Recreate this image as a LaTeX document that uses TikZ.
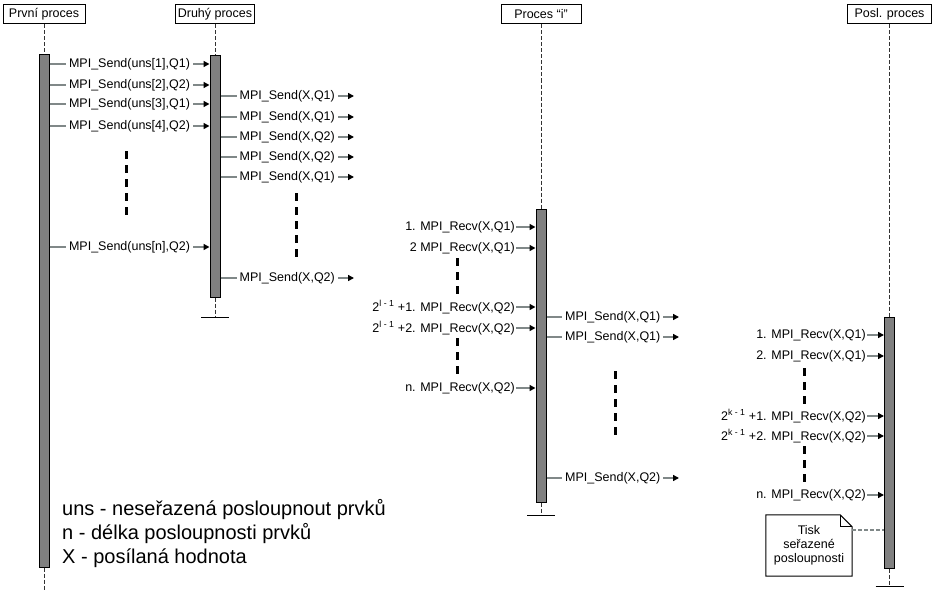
\documentclass[tikz,border=0pt]{standalone}
\usepackage{fontspec}
\setmainfont{Liberation Sans}
\usetikzlibrary{arrows.meta}
\definecolor{bargray}{RGB}{128,128,128}
\definecolor{msggray}{RGB}{128,136,136}
\definecolor{lifegray}{RGB}{50,50,50}
\begin{document}
\begin{tikzpicture}[x=1pt,y=-1pt,
  head/.style={draw, line width=1pt, minimum height=19pt, inner sep=0pt, font=\fontsize{12.5}{14}\selectfont},
  bar/.style={draw, fill=bargray, line width=1pt, minimum width=10pt, inner sep=0pt},
  life/.style={draw=lifegray, line width=1pt, dash pattern=on 4pt off 2pt},
  term/.style={line width=1pt},
  msg/.style={draw=msggray, line width=1.5pt, -{Triangle[length=6pt,width=6pt,color=black]}},
  lbl/.style={fill=white, inner xsep=3pt, inner ysep=1pt, font=\fontsize{12.5}{14}\selectfont},
  rlbl/.style={inner xsep=1pt, inner ysep=1pt, anchor=east, font=\fontsize{12.5}{14}\selectfont},
  ell/.style={line width=3pt, dash pattern=on 8pt off 6pt},
  notebox/.style={minimum width=86pt, minimum height=61pt, inner sep=0pt, align=center, font=\fontsize{12.5}{14}\selectfont},
  notelink/.style={draw=msggray, line width=1.5pt, dash pattern=on 4pt off 2pt},
]
\useasboundingbox (0,0) rectangle (934,602);

% headers
\node[head, minimum width=82pt] (h1) at (44,14.5) {První proces};
\node[head, minimum width=79pt] (h2) at (215,14.5) {Druhý proces};
\node[head, minimum width=80pt] (h3) at (541,14.5) {Proces “i”};
\node[head, minimum width=84pt] (h4) at (889.5,14.5) {Posl. proces};

% activation bars
\node[bar, minimum height=512pt] (b1) at (44,311) {};
\node[bar, minimum height=241pt] (b2) at (215,176.5) {};
\node[bar, minimum height=293pt] (b3) at (541,355.5) {};
\node[bar, minimum height=251pt] (b4) at (889.5,442.5) {};

% lifelines
\coordinate (e1) at (44,590);
\coordinate (e2) at (215,317);
\coordinate (e3) at (541,515);
\coordinate (e4) at (889.5,586);
\draw[life] (h1.south) -- (b1.north);
\draw[life] (h2.south) -- (b2.north);
\draw[life] (h3.south) -- (b3.north);
\draw[life] (h4.south) -- (b4.north);
\draw[life] (b1.south) -- (e1);
\draw[life] (b2.south) -- (e2);
\draw[life] (b3.south) -- (e3);
\draw[life] (b4.south) -- (e4);
\draw[term] ([xshift=-14pt]e2) -- ([xshift=14pt]e2);
\draw[term] ([xshift=-14pt]e3) -- ([xshift=14pt]e3);
\draw[term] ([xshift=-14pt]e4) -- ([xshift=14pt]e4);

% first -> second
\foreach \y/\t/\q in {64/1/1,85/2/2,104/3/1,126/4/2,247/n/2}
  \draw[msg] (b1.east |- 0,\y) -- node[lbl]{MPI\_Send(uns[\t],Q\q)} (b2.west |- 0,\y);

% second sends
\foreach \y/\q [count=\i] in {96/1,117/1,137/2,157/2,177/1,278/2}{
  \coordinate (d\i) at (354,\y);
  \draw[msg] (b2.east |- d\i) -- node[lbl]{MPI\_Send(X,Q\q)} (d\i);
}

% process i receives
\node[rlbl] (r1) at (516,227) {1. MPI\_Recv(X,Q1)};
\node[rlbl] (r2) at (516,248) {2 MPI\_Recv(X,Q1)};
\node[rlbl] (r3) at (516,307) {2\textsuperscript{l - 1} +1. MPI\_Recv(X,Q2)};
\node[rlbl] (r4) at (516,328) {2\textsuperscript{l - 1} +2. MPI\_Recv(X,Q2)};
\node[rlbl] (r5) at (516,388) {n. MPI\_Recv(X,Q2)};
\foreach \n in {r1,r2,r3,r4,r5}
  \draw[msg] (\n.east) -- (b3.west |- \n.east);

% process i sends
\foreach \y/\q [count=\i] in {317/1,337/1,478/2}{
  \coordinate (p\i) at (679,\y);
  \draw[msg] (b3.east |- p\i) -- node[lbl]{MPI\_Send(X,Q\q)} (p\i);
}

% last receives
\node[rlbl] (k1) at (867,335) {1. MPI\_Recv(X,Q1)};
\node[rlbl] (k2) at (867,356) {2. MPI\_Recv(X,Q1)};
\node[rlbl] (k3) at (867,416) {2\textsuperscript{k - 1} +1. MPI\_Recv(X,Q2)};
\node[rlbl] (k4) at (867,436) {2\textsuperscript{k - 1} +2. MPI\_Recv(X,Q2)};
\node[rlbl] (k5) at (867,495) {n. MPI\_Recv(X,Q2)};
\foreach \n in {k1,k2,k3,k4,k5}
  \draw[msg] (\n.east) -- (b4.west |- \n.east);

% ellipsis marks
\draw[ell] (126,151) -- (126,219);
\draw[ell] (296,193) -- (296,262);
\draw[ell] (457,258) -- (457,298);
\draw[ell] (457,338) -- (457,376);
\draw[ell] (615,371) -- (615,440);
\draw[ell] (804,368) -- (804,404);
\draw[ell] (804,446) -- (804,484);

% note
\node[notebox] (note) at (809,545.5) {Tisk\\seřazené\\posloupnosti};
\draw[line width=1pt] (note.north west) -- ([xshift=-12pt]note.north east) -- ([yshift=-12pt]note.north east) -- (note.south east) -- (note.south west) -- cycle;
\draw[line width=0.8pt] ([xshift=-12pt]note.north east) -- ++(0,12) -- ([yshift=-12pt]note.north east);
\draw[notelink] (note.east |- 0,530) -- (b4.west |- 0,530);

% legend (base anchor = baseline of last line)
\node[anchor=base west, align=left, inner sep=0pt, font=\fontsize{20}{24}\selectfont] (legend) at (62,563)
  {uns - neseřazená posloupnout prvků\\n - délka posloupnosti prvků\\X - posílaná hodnota};
\end{tikzpicture}
\end{document}
